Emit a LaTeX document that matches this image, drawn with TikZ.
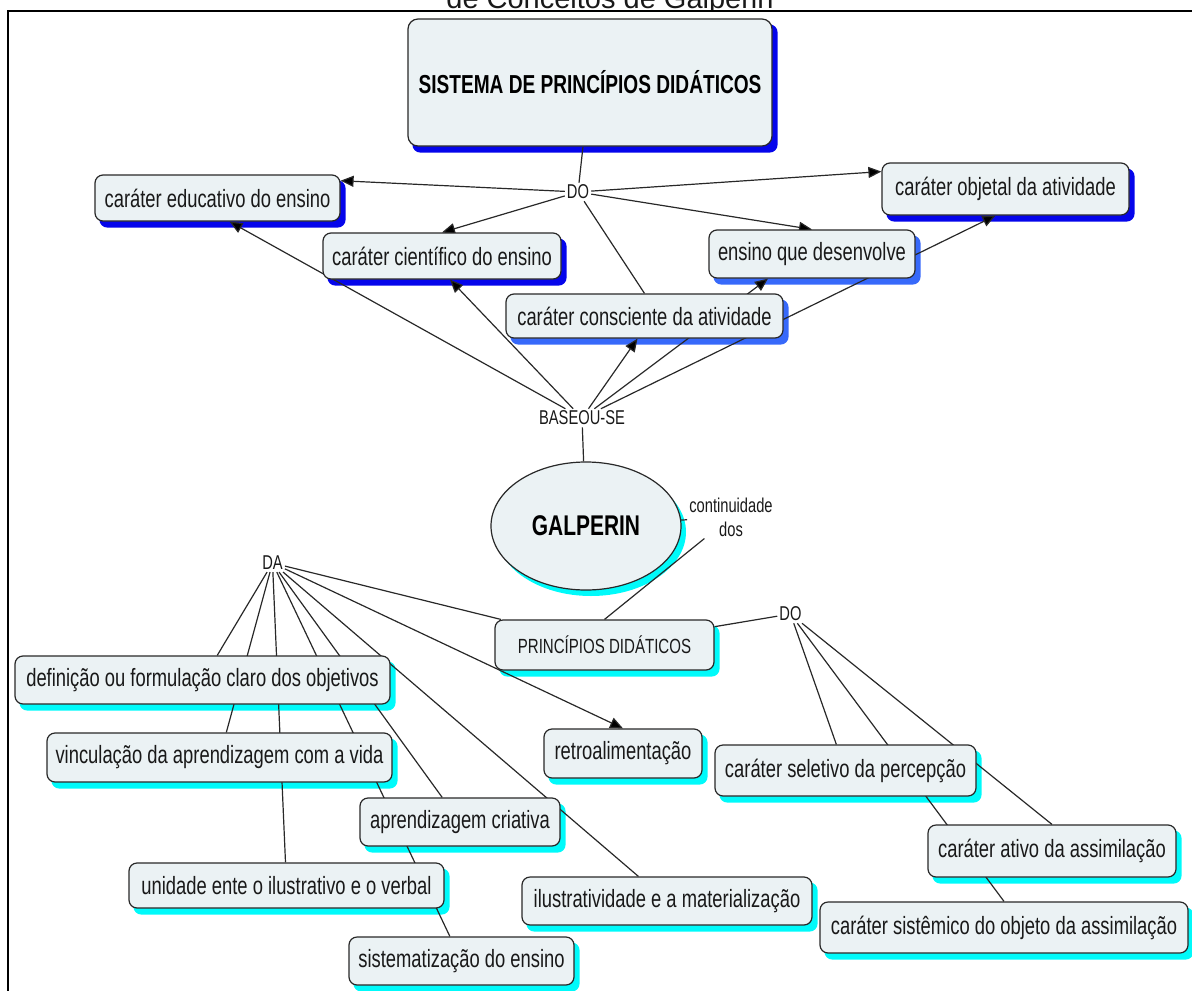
\documentclass[tikz,border=0pt]{standalone}
\usepackage{fontspec}
\setmainfont{Liberation Sans}[FakeStretch=0.735]
\newfontfamily\headfont{Liberation Sans}
\usepackage{tikz}
\usetikzlibrary{shapes.geometric, arrows.meta}
\definecolor{boxfill}{RGB}{235, 242, 244}
\definecolor{edgec}{RGB}{40, 40, 40}
\definecolor{txt}{RGB}{25, 25, 25}
\definecolor{shblue}{RGB}{5, 5, 235}
\definecolor{shlight}{RGB}{55, 105, 250}
\definecolor{shcyan}{RGB}{0, 250, 250}
\pgfdeclarelayer{shade}
\pgfdeclarelayer{links}
\pgfsetlayers{shade,links,main}

\begin{document}
\begin{tikzpicture}[x=1pt, y=-1pt,
  concept/.style={draw=edgec, line width=1.2pt, fill=boxfill, rounded corners=8pt, inner sep=3pt, text=txt, font=\fontsize{25}{28}\selectfont},
  phrase/.style={inner sep=2pt, text=txt, font=\fontsize{20}{24}\selectfont},
  link/.style={draw=edgec, line width=1.2pt},
  arr/.style={link, -{Triangle[length=13pt, width=11pt, fill=black]}}]
  \useasboundingbox (0,0) rectangle (1192,991);

  % Header (cut at the top)
  \begin{scope}
    \clip (0,0) rectangle (1192,10);
    \node[font=\headfont\fontsize{29}{30}\selectfont, anchor=base, text=txt] (head) at (610,8) {de Conceitos de Galperin};
  \end{scope}
  \draw[line width=2.4pt] (8,991) -- (8,11) -- (1192,11);

  % Top concept
  \node[concept, rounded corners=10pt, minimum width=364pt, minimum height=127pt, font=\bfseries\fontsize{26}{30}\selectfont, text=black] (title) at (590,82.5) {SISTEMA DE PRINCÍPIOS DIDÁTICOS};
  \node[phrase] (dotop) at (578,192) {DO};

  \node[concept, minimum width=245pt, minimum height=46pt] (educ) at (217.5,198) {caráter educativo do ensino};
  \node[concept, minimum width=247pt, minimum height=52pt] (objet) at (1005.5,189) {caráter objetal da atividade};
  \node[concept, minimum width=238pt, minimum height=46pt] (cient) at (442,256) {caráter científico do ensino};
  \node[concept, minimum width=206pt, minimum height=48pt] (desenv) at (812,254) {ensino que desenvolve};
  \node[concept, minimum width=277pt, minimum height=44pt] (consc) at (644.5,316) {caráter consciente da atividade};

  \node[phrase] (baseou) at (582,418) {BASEOU-SE};

  % Galperin
  \node[ellipse, draw=edgec, line width=1.2pt, fill=boxfill, minimum width=190pt, minimum height=128pt, inner sep=0pt, font=\bfseries\fontsize{28.5}{30}\selectfont, text=black] (galp) at (586,526) {GALPERIN};
  \node[phrase, align=center] (cont) at (731,517) {continuidade\\dos};
  \node[concept, minimum width=219pt, minimum height=50pt, font=\fontsize{20.5}{23}\selectfont] (princ) at (604.5,645) {PRINCÍPIOS DIDÁTICOS};
  \node[phrase] (da) at (272.5,563) {DA};
  \node[phrase] (dobot) at (790.5,614) {DO};

  % Lower concepts
  \node[concept, minimum width=375pt, minimum height=48pt] (defin) at (202.5,680) {definição ou formulação claro dos objetivos};
  \node[concept, minimum width=345pt, minimum height=49pt] (vincul) at (219.5,757.5) {vinculação da aprendizagem com a vida};
  \node[concept, minimum width=158pt, minimum height=49pt] (retro) at (623,753.5) {retroalimentação};
  \node[concept, minimum width=261pt, minimum height=51pt] (selet) at (845.5,770.5) {caráter seletivo da percepção};
  \node[concept, minimum width=200pt, minimum height=48pt] (aprend) at (460,822) {aprendizagem criativa};
  \node[concept, minimum width=248pt, minimum height=52pt] (ativo) at (1052,851) {caráter ativo da assimilação};
  \node[concept, minimum width=315pt, minimum height=45pt] (unid) at (286.5,885.5) {unidade ente o ilustrativo e o verbal};
  \node[concept, minimum width=290pt, minimum height=48pt] (ilust) at (667,901) {ilustratividade e a materialização};
  \node[concept, minimum width=368pt, minimum height=51pt] (sistem) at (1004,927.5) {caráter sistêmico do objeto da assimilação};
  \node[concept, minimum width=225pt, minimum height=48pt] (sistz) at (461.5,961) {sistematização do ensino};

  % Shadows
  \begin{pgfonlayer}{shade}
    \foreach \n in {title,educ,cient,objet}
      \fill[shblue, rounded corners=8pt] ([shift={(5,6)}]\n.south west) rectangle ([shift={(5,6)}]\n.north east);
    \foreach \n in {desenv,consc}
      \fill[shlight, rounded corners=8pt] ([shift={(5,6)}]\n.south west) rectangle ([shift={(5,6)}]\n.north east);
    \foreach \n in {princ,defin,vincul,retro,selet,aprend,ativo,unid,ilust,sistem,sistz}
      \fill[shcyan, rounded corners=8pt] ([shift={(5,6)}]\n.south west) rectangle ([shift={(5,6)}]\n.north east);
    \fill[shcyan] ([shift={(5,6)}]galp.center) ellipse [x radius=95, y radius=64];
  \end{pgfonlayer}

  % Links
  \begin{pgfonlayer}{links}
    \draw[link] (title) -- (dotop);
    \draw[arr] (dotop) -- (educ.8);
    \draw[arr] (dotop) -- (cient.north);
    \draw[link] (dotop) -- (consc.north);
    \draw[arr] (dotop) -- (desenv.north);
    \draw[arr] (dotop) -- (objet.172);

    \draw[arr] (baseou) -- ([xshift=12pt]educ.south);
    \draw[arr] (baseou) -- ([xshift=8pt]cient.south);
    \draw[arr] (baseou) -- ([xshift=-7pt]consc.south);
    \draw[arr] (baseou) -- ([xshift=-44pt]desenv.south);
    \draw[arr] (baseou) -- ([xshift=-10pt]objet.south);

    \draw[link] (galp) -- (baseou);
    \draw[link] (galp) -- (cont);
    \draw[link] (cont) -- (princ.north);
    \draw[link] (princ) -- (da);
    \draw[link] (princ) -- (dobot);

    \foreach \t in {defin,vincul,unid,aprend,sistz,ilust}
      \draw[link] (da) -- (\t);
    \draw[arr] (da) -- (retro.north);

    \draw[link] (dobot) -- (selet);
    \draw[link] (dobot) -- (ativo.north);
    \draw[link] (dobot) -- (sistem.north);
  \end{pgfonlayer}
\end{tikzpicture}
\end{document}
